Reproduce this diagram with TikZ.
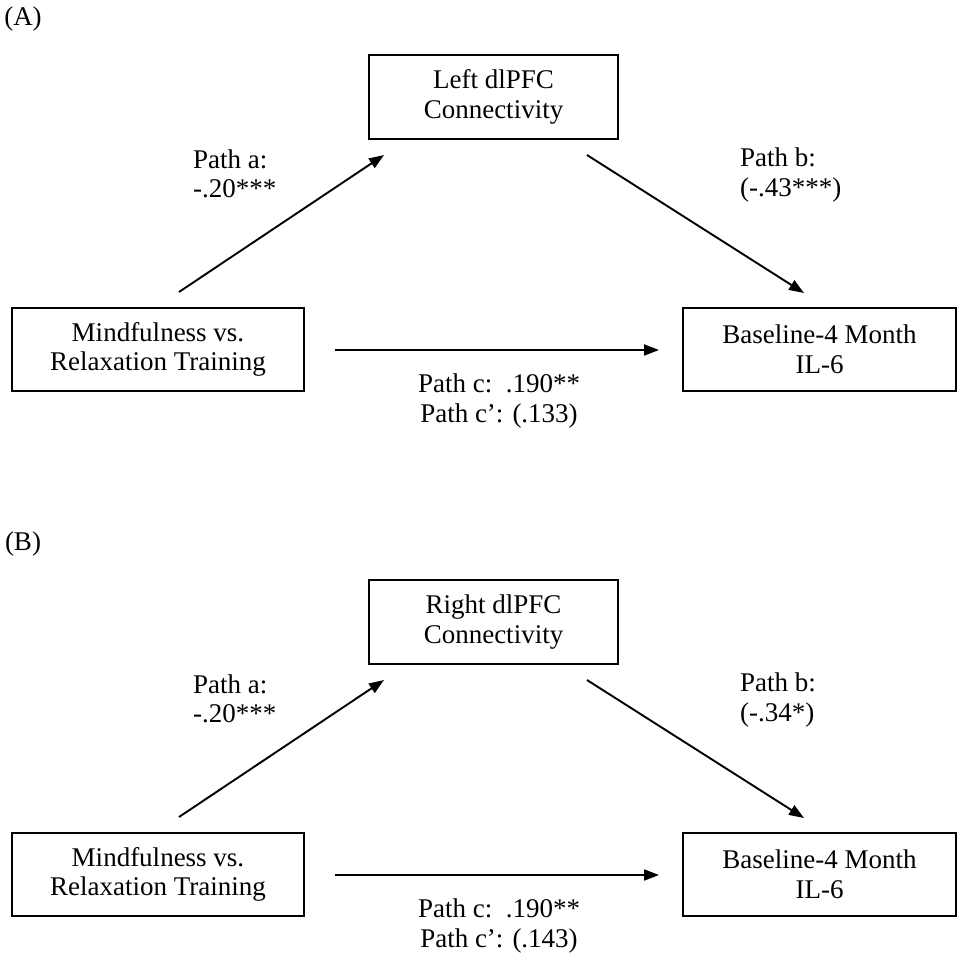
\documentclass[tikz,border=0pt]{standalone}
\usepackage{fontspec}
\setmainfont{Liberation Serif}
\usetikzlibrary{arrows.meta}
\begin{document}
\begin{tikzpicture}[x=1pt,y=-1pt,
  every node/.style={font=\fontsize{27}{29.5}\selectfont},
  varbox/.style={draw,line width=1.3pt,align=center,inner sep=0pt},
  lbl/.style={align=left,anchor=west,inner sep=0pt},
  clbl/.style={align=center,inner sep=0pt},
  arr/.style={line width=1.9pt,-{Triangle[length=15pt,width=11pt]}}]
\useasboundingbox (0,0) rectangle (957,961);
% Panel A
\node[inner sep=0pt] (labA) at (23,19) {(A)};
\node[varbox,minimum width=249pt,minimum height=84pt] (medA) at (493.5,97) {Left dlPFC\\Connectivity};
\node[varbox,minimum width=292pt,minimum height=83pt] (xA) at (158,349.5) {Mindfulness vs.\\Relaxation Training};
\node[varbox,minimum width=273pt,minimum height=83pt] (yA) at (819.5,349.5) {Baseline-4 Month\\IL-6};
\node[lbl] (paA) at (193,174) {Path a:\\-.20***};
\node[lbl] (pbA) at (740,175) {Path b:\\(-.43***)};
\node[clbl] (pcA) at (499,401) {Path c:\ \ .190**\\Path c’: (.133)};
\coordinate (a1A) at (179,292);
\coordinate (a2A) at (384,155);
\coordinate (b1A) at (587,155);
\coordinate (b2A) at (804,293);
\coordinate (c1A) at (335,350);
\coordinate (c2A) at (659,350);
\draw[arr] (a1A) -- (a2A);
\draw[arr] (b1A) -- (b2A);
\draw[arr] (c1A) -- (c2A);
% Panel B
\node[inner sep=0pt] (labB) at (23,544) {(B)};
\node[varbox,minimum width=249pt,minimum height=84pt] (medB) at (493.5,622) {Right dlPFC\\Connectivity};
\node[varbox,minimum width=292pt,minimum height=83pt] (xB) at (158,874.5) {Mindfulness vs.\\Relaxation Training};
\node[varbox,minimum width=273pt,minimum height=83pt] (yB) at (819.5,874.5) {Baseline-4 Month\\IL-6};
\node[lbl] (paB) at (193,699) {Path a:\\-.20***};
\node[lbl] (pbB) at (740,700) {Path b:\\(-.34*)};
\node[clbl] (pcB) at (499,926) {Path c:\ \ .190**\\Path c’: (.143)};
\coordinate (a1B) at (179,817);
\coordinate (a2B) at (384,680);
\coordinate (b1B) at (587,680);
\coordinate (b2B) at (804,818);
\coordinate (c1B) at (335,875);
\coordinate (c2B) at (659,875);
\draw[arr] (a1B) -- (a2B);
\draw[arr] (b1B) -- (b2B);
\draw[arr] (c1B) -- (c2B);
\end{tikzpicture}
\end{document}
